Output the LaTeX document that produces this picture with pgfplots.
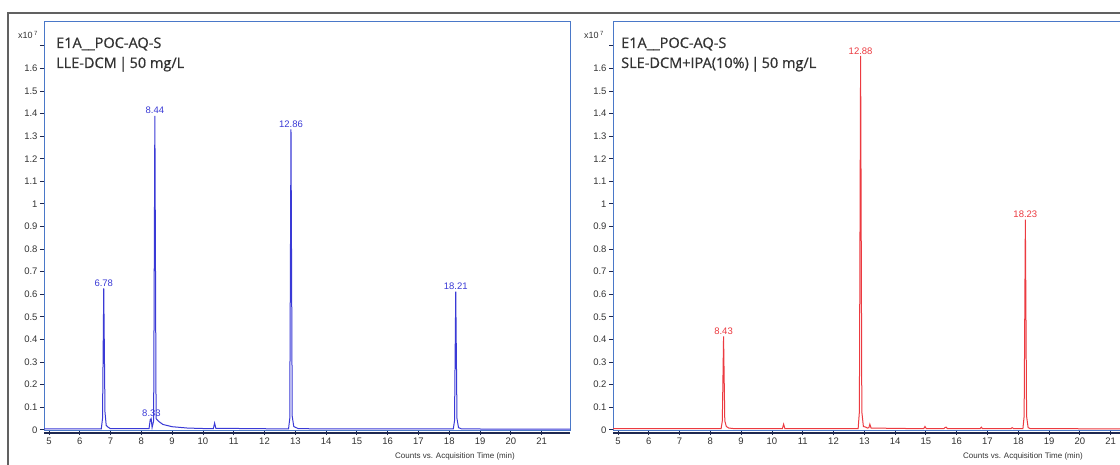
\documentclass[border=0pt]{standalone}
\usepackage{pgfplots}
\pgfplotsset{compat=1.18}
\usepackage{fontspec}
\setmainfont{Liberation Sans}
\newfontfamily\titlefont{Open Sans}[FakeBold=0.7]

\definecolor{trBlue}{HTML}{3A3AD6}
\definecolor{trRed}{HTML}{EC3A40}
\definecolor{frBlue}{HTML}{4A78C8}
\definecolor{axDark}{HTML}{1E2850}
\definecolor{txGray}{HTML}{333333}

\pgfplotsset{
  chrom/.style={
    scale only axis, width=526pt, height=409pt,
    xmin=4.84, xmax=21.92, ymin=-0.005, ymax=1.805,
    xtick={5,6,7,8,9,10,11,12,13,14,15,16,17,18,19,20,21},
    ytick={0,0.1,0.2,0.3,0.4,0.5,0.6,0.7,0.8,0.9,1,1.1,1.2,1.3,1.4,1.5,1.6,1.7},
    yticklabels={0,0.1,0.2,0.3,0.4,0.5,0.6,0.7,0.8,0.9,1,1.1,1.2,1.3,1.4,1.5,1.6,{}},
    xtick pos=bottom, ytick pos=left,
    tick align=outside, major tick length=4pt,
    tick style={draw=axDark, line width=0.8pt},
    tick label style={font=\fontsize{9.5}{10}\selectfont, text=txGray},
    xticklabel style={yshift=1pt},
    yticklabel style={xshift=1pt},
    /pgf/number format/assume math mode=true,
    axis line style={draw=frBlue, line width=1pt},
    clip=true,
  },
}
\tikzset{plabel/.style={font=\fontsize{9.5}{10}\selectfont, anchor=south, inner sep=1.5pt}}

\begin{document}
\begin{tikzpicture}[x=1pt,y=1pt]
\path[use as bounding box] (0,0) rectangle (1120,465);
\clip (0,0) rectangle (1120,465);
\fill[white] (0,0) rectangle (1120,465);
% outer frame
\draw[line width=2pt, black!62] (8,-5) -- (8,452) -- (1125,452);

% left panel: LLE-DCM
\begin{axis}[chrom, at={(44pt,34pt)}, anchor=south west]
\addplot[trBlue, line width=1pt] coordinates {
  (4.84,0.004) (6.70,0.004) (6.74,0.05) (6.78,0.626) (6.82,0.08) (6.86,0.02)
  (6.92,0.012) (7.00,0.005) (8.25,0.005) (8.29,0.045) (8.32,0.05) (8.35,0.01)
  (8.40,0.04) (8.44,1.39) (8.48,0.05) (8.51,0.045) (8.56,0.038) (8.70,0.024)
  (9.00,0.014) (9.50,0.008) (10.00,0.006) (10.34,0.006) (10.38,0.03) (10.42,0.007)
  (12.78,0.004) (12.82,0.05) (12.86,1.33) (12.90,0.06) (12.95,0.015) (13.10,0.005)
  (18.13,0.004) (18.17,0.04) (18.21,0.612) (18.25,0.05) (18.30,0.01) (18.40,0.004)
  (21.92,0.003)
};
\node[plabel, text=trBlue] at (axis cs:6.78,0.626) {6.78};
\node[plabel, text=trBlue] at (axis cs:8.33,0.05) {8.33};
\node[plabel, text=trBlue] at (axis cs:8.44,1.39) {8.44};
\node[plabel, text=trBlue] at (axis cs:12.86,1.33) {12.86};
\node[plabel, text=trBlue] at (axis cs:18.21,0.612) {18.21};
\end{axis}
\draw[axDark, line width=1.1pt] (44,32) -- (570,32);

% right panel: SLE-DCM+IPA
\begin{axis}[chrom, at={(613pt,34pt)}, anchor=south west]
\addplot[trRed, line width=1pt] coordinates {
  (4.84,0.005) (8.35,0.005) (8.39,0.04) (8.43,0.414) (8.47,0.04) (8.52,0.015)
  (8.60,0.008) (8.80,0.005) (10.34,0.005) (10.38,0.025) (10.42,0.006)
  (12.80,0.005) (12.84,0.08) (12.88,1.655) (12.92,0.08) (12.97,0.015)
  (13.05,0.012) (13.10,0.008) (13.15,0.01) (13.18,0.025) (13.22,0.008)
  (14.93,0.005) (14.97,0.015) (15.01,0.006) (15.58,0.005) (15.62,0.01)
  (15.66,0.012) (15.70,0.005) (16.76,0.005) (16.80,0.012) (16.84,0.005)
  (17.76,0.005) (17.80,0.01) (17.84,0.006) (18.15,0.005) (18.19,0.06)
  (18.23,0.93) (18.27,0.06) (18.32,0.01) (18.40,0.005) (19.80,0.005)
  (21.92,0.004)
};
\node[plabel, text=trRed] at (axis cs:8.43,0.414) {8.43};
\node[plabel, text=trRed] at (axis cs:12.88,1.655) {12.88};
\node[plabel, text=trRed] at (axis cs:18.23,0.93) {18.23};
\end{axis}
\draw[axDark, line width=1.1pt] (613,32) -- (1125,32);

% scale labels
\node[font=\fontsize{9}{10}\selectfont, text=txGray] at (28,430) {x10\,\textsuperscript{7}};
\node[font=\fontsize{9}{10}\selectfont, text=txGray] at (594,430) {x10\,\textsuperscript{7}};

% panel titles
\node[anchor=base west, inner sep=0pt, font=\titlefont\fontsize{14.5}{17}\selectfont, text=txGray] at (56,417) {E1A\_\_POC-AQ-S};
\node[anchor=base west, inner sep=0pt, font=\titlefont\fontsize{14.5}{17}\selectfont, text=txGray] at (56,397) {LLE-DCM\,|\,50 mg/L};
\node[anchor=base west, inner sep=0pt, font=\titlefont\fontsize{14.5}{17}\selectfont, text=txGray] at (621,417) {E1A\_\_POC-AQ-S};
\node[anchor=base west, inner sep=0pt, font=\titlefont\fontsize{14.5}{17}\selectfont, text=txGray] at (621,397) {SLE-DCM+IPA(10\%)\,|\,50 mg/L};

% x-axis captions
\node[font=\fontsize{8}{9}\selectfont, text=txGray] at (455,9) {Counts vs. Acquisition Time (min)};
\node[font=\fontsize{8}{9}\selectfont, text=txGray] at (1023,9) {Counts vs. Acquisition Time (min)};
\end{tikzpicture}
\end{document}
